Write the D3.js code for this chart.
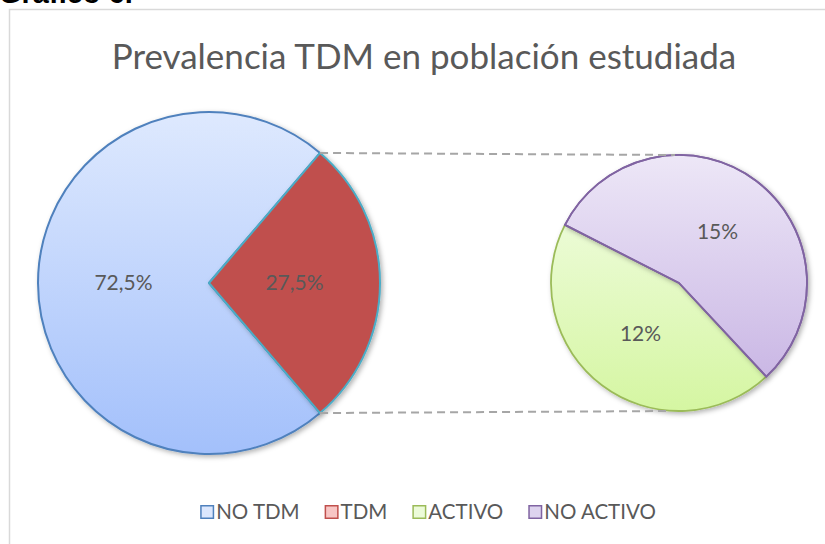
<!DOCTYPE html>
<html>
<head>
<meta charset="utf-8">
<script src="https://cdn.jsdelivr.net/npm/d3@7"></script>
<style>
  html, body { margin: 0; padding: 0; background: #fff; }
  svg { display: block; }
</style>
</head>
<body>
<div id="chart"></div>
<script>
// Pie-of-pie: prevalence of TDM, and split of the TDM part
const primaryLabels = ['NO TDM', 'TDM'];
const primaryValues = [72.5, 27.5];
const primaryText = ['72,5%', '27,5%'];

const secondaryLabels = ['ACTIVO', 'NO ACTIVO'];
const secondaryValues = [12, 15];
const secondaryText = ['12%', '15%'];

const legendLabels = ['NO TDM', 'TDM', 'ACTIVO', 'NO ACTIVO'];

const W = 825, H = 544;
const FONT = 'Lato, "Open Sans", sans-serif';
const TXT = '#595959';

const svg = d3.select('#chart').append('svg')
  .attr('width', W).attr('height', H);

const defs = svg.append('defs');

// vertical gradients like the Excel fills (local coords of each pie)
function grad(id, top, bottom, r) {
  const g = defs.append('linearGradient').attr('id', id)
    .attr('gradientUnits', 'userSpaceOnUse')
    .attr('x1', 0).attr('x2', 0).attr('y1', -r).attr('y2', r);
  g.append('stop').attr('offset', 0).attr('stop-color', top);
  g.append('stop').attr('offset', 1).attr('stop-color', bottom);
}

const f = defs.append('filter').attr('id', 'shadow')
  .attr('x', '-10%').attr('y', '-10%').attr('width', '130%').attr('height', '130%');
f.append('feDropShadow').attr('dx', 2).attr('dy', 2).attr('stdDeviation', 2.5)
  .attr('flood-color', '#000').attr('flood-opacity', 0.3);

// chart frame
svg.append('rect')
  .attr('x', 9.5).attr('y', 9.5).attr('width', 840).attr('height', 560)
  .attr('fill', '#fff').attr('stroke', '#d9d9d9').attr('stroke-width', 1.5);

// heading above the chart, mostly cut by the page edge
svg.append('text')
  .attr('x', -1).attr('y', 3)
  .style('font-family', '"Liberation Sans", Arial, sans-serif')
  .style('font-weight', 'bold').style('font-size', '29px').style('fill', '#000')
  .text('Gráfico 6.');

svg.append('text')
  .attr('x', 424).attr('y', 69)
  .attr('text-anchor', 'middle')
  .style('font-family', FONT).style('font-size', '35px').style('fill', TXT)
  .text('Prevalencia TDM en población estudiada');

const c1 = { x: 209, y: 283, r: 171 };
const c2 = { x: 679, y: 283, r: 128 };

grad('gNoTdm', '#dee9fe', '#a3c0fb', c1.r);
grad('gNoAct', '#ede7f7', '#c5b0e2', c2.r);
grad('gAct', '#f4fde9', '#d5f6a2', c2.r);

// primary pie
const total1 = d3.sum(primaryValues);
const tdmSpan = primaryValues[1] / total1 * 2 * Math.PI;
const start1 = Math.PI / 2 + tdmSpan / 2;   // NO TDM starts after the TDM wedge

const pie1 = d3.pie().sort(null)
  .startAngle(start1).endAngle(start1 + 2 * Math.PI);
const arcs1 = pie1(primaryValues);
const arc1 = d3.arc().innerRadius(0).outerRadius(c1.r);
const lab1 = d3.arc().innerRadius(c1.r * 0.5).outerRadius(c1.r * 0.5);

const fill1 = ['url(#gNoTdm)', '#c0504d'];
const stroke1 = ['#4f81bd', '#4bacc6'];

const p1 = svg.append('g').attr('transform', `translate(${c1.x},${c1.y})`);
p1.selectAll('path')
  .data(arcs1).enter().append('path')
  .attr('d', arc1)
  .attr('fill', (d, i) => fill1[i])
  .attr('stroke', (d, i) => stroke1[i])
  .attr('stroke-width', 2)
  .attr('stroke-linejoin', 'round')
  .attr('filter', 'url(#shadow)');

// secondary pie
const start2 = (137 / 180) * Math.PI;
const pie2 = d3.pie().sort(null)
  .startAngle(start2).endAngle(start2 + 2 * Math.PI);
const arcs2 = pie2(secondaryValues);
const arc2 = d3.arc().innerRadius(0).outerRadius(c2.r);
const lab2 = d3.arc().innerRadius(c2.r * 0.5).outerRadius(c2.r * 0.5);
const fill2 = ['url(#gAct)', 'url(#gNoAct)'];
const stroke2 = ['#9bbb59', '#8064a2'];

const p2 = svg.append('g').attr('transform', `translate(${c2.x},${c2.y})`);
p2.selectAll('path.slice')
  .data(arcs2).enter().append('path')
  .attr('class', 'slice')
  .attr('d', arc2)
  .attr('fill', (d, i) => fill2[i])
  .attr('stroke', (d, i) => stroke2[i])
  .attr('stroke-width', 1.8)
  .attr('stroke-linejoin', 'round')
  .attr('filter', 'url(#shadow)');
// outline of NO ACTIVO again so its edges sit on top
p2.append('path')
  .attr('d', arc2(arcs2[1]))
  .attr('fill', 'none').attr('stroke', stroke2[1]).attr('stroke-width', 1.8);

// connector lines from the TDM wedge to the secondary pie
const tdm = arcs1[1];
const ends = [tdm.startAngle, tdm.endAngle].map(a =>
  [c1.x + c1.r * Math.sin(a), c1.y - c1.r * Math.cos(a)]);
const lines = ends.map(p => p[1] < c1.y
  ? [p, [c2.x - 4, c2.y - c2.r]]
  : [p, [c2.x - 8, c2.y + c2.r]]);

svg.selectAll('line.conn')
  .data(lines).enter().append('line')
  .attr('class', 'conn')
  .attr('x1', d => d[0][0]).attr('y1', d => d[0][1])
  .attr('x2', d => d[1][0]).attr('y2', d => d[1][1])
  .attr('stroke', '#a6a6a6').attr('stroke-width', 2)
  .attr('stroke-dasharray', '8,5');

// data labels
svg.selectAll('text.l1')
  .data(arcs1).enter().append('text')
  .attr('class', 'l1')
  .attr('x', d => c1.x + lab1.centroid(d)[0])
  .attr('y', d => c1.y + lab1.centroid(d)[1])
  .attr('dy', '0.35em').attr('text-anchor', 'middle')
  .style('font-family', FONT).style('font-size', '21px').style('fill', TXT)
  .text((d, i) => primaryText[i]);

svg.selectAll('text.l2')
  .data(arcs2).enter().append('text')
  .attr('class', 'l2')
  .attr('x', d => c2.x + lab2.centroid(d)[0])
  .attr('y', d => c2.y + lab2.centroid(d)[1])
  .attr('dy', '0.35em').attr('text-anchor', 'middle')
  .style('font-family', FONT).style('font-size', '21px').style('fill', TXT)
  .text((d, i) => secondaryText[i]);

// legend, laid out from measured text widths and centred under the frame
const legFill = ['#dce7fd', '#f8c6c5', '#ecfbd9', '#ddd3ee'];
const legStroke = ['#4f81bd', '#c0504d', '#9bbb59', '#8064a2'];
const box = 14, pad = 2, gap = 25, legCenter = 428;

const leg = svg.selectAll('g.leg')
  .data(legendLabels).enter().append('g')
  .attr('class', 'leg');
leg.append('rect')
  .attr('x', 0.75).attr('y', 0.75).attr('width', box - 1.5).attr('height', box - 1.5)
  .attr('fill', (d, i) => legFill[i])
  .attr('stroke', (d, i) => legStroke[i]).attr('stroke-width', 1.5);
leg.append('text')
  .attr('x', box + pad).attr('y', box / 2).attr('dy', '0.35em')
  .style('font-family', FONT).style('font-size', '20.5px').style('fill', TXT)
  .text(d => d);

const widths = [];
leg.each(function () {
  widths.push(box + pad + this.querySelector('text').getComputedTextLength());
});
const totalW = d3.sum(widths) + gap * (widths.length - 1);
let cx = legCenter - totalW / 2;
leg.attr('transform', (d, i) => {
  const x = cx;
  cx += widths[i] + gap;
  return `translate(${x},505)`;
});
</script>
</body>
</html>
